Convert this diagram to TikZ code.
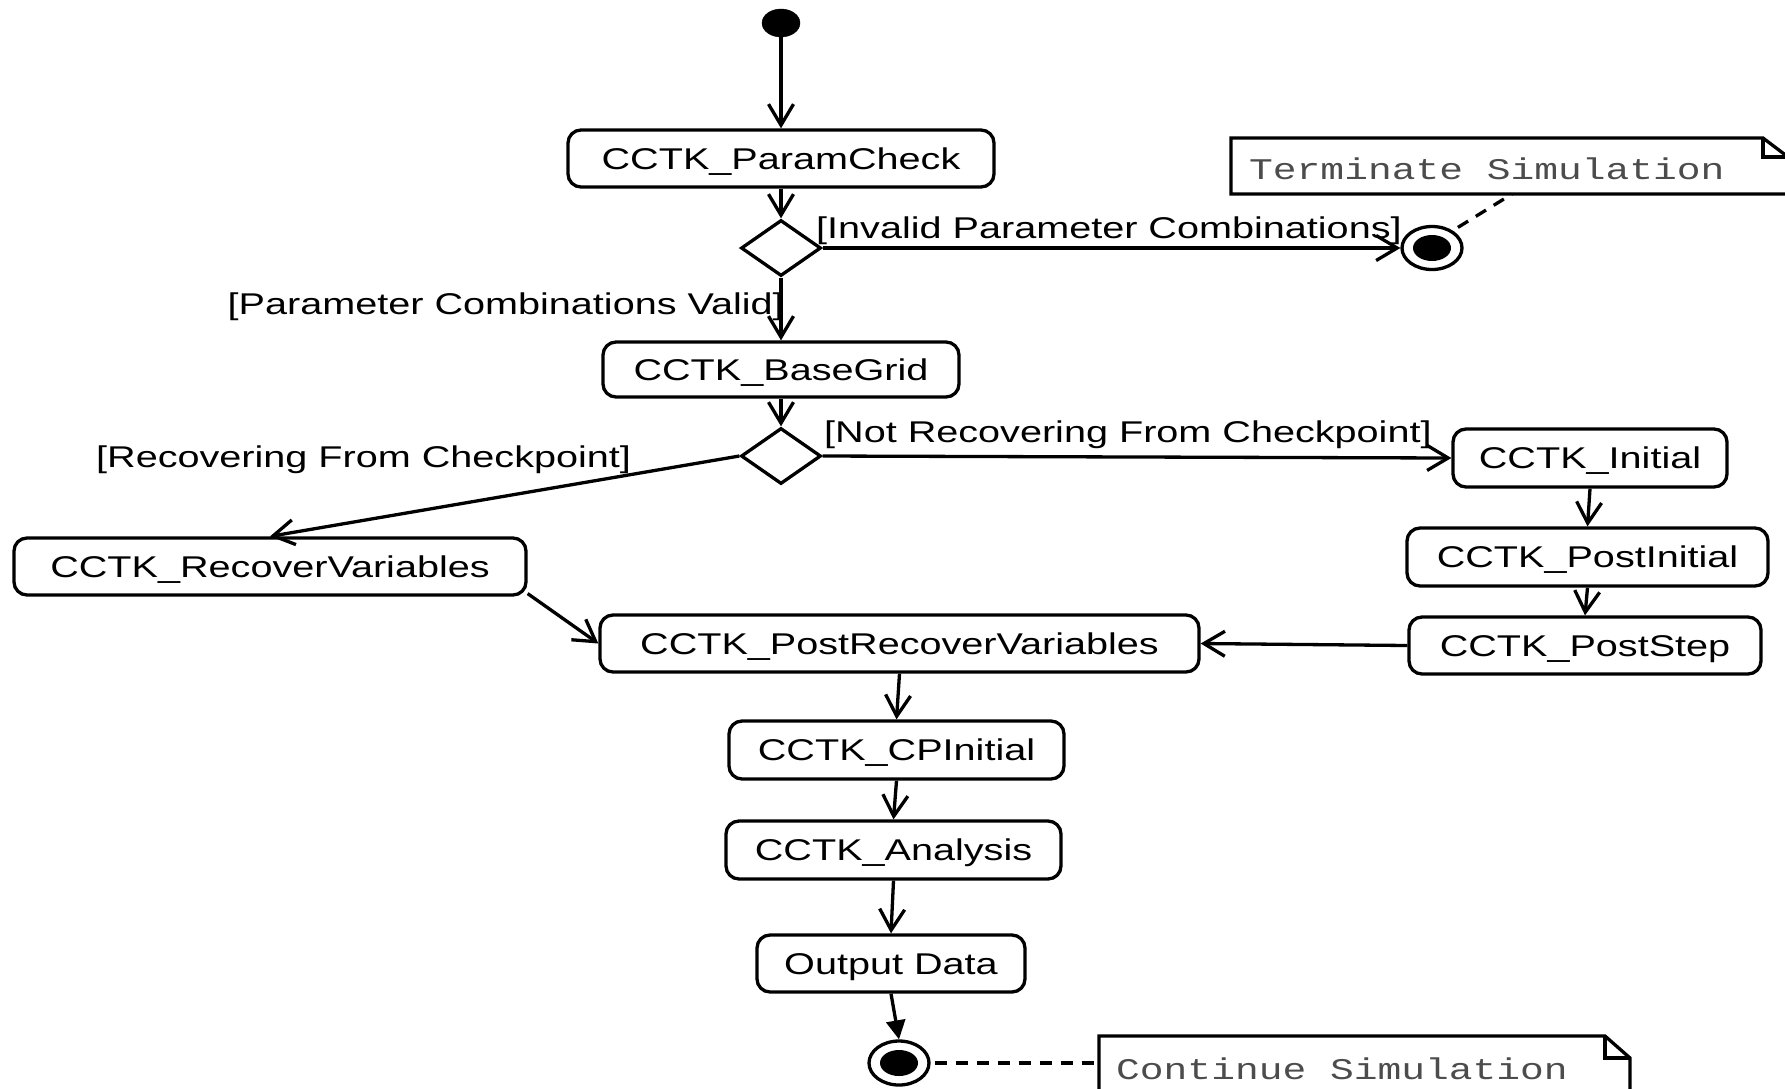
\documentclass[tikz,border=0pt]{standalone}
\usepackage{fontspec}
\setmainfont{Liberation Sans}[FakeStretch=1.32]
\newfontfamily\notefont{Liberation Mono}[FakeStretch=1.32]
\usetikzlibrary{arrows.meta,shapes.geometric}
\begin{document}
\begin{tikzpicture}[x=1pt,y=-1pt,
  every node/.style={font=\fontsize{30}{36}\selectfont},
  act/.style={draw, line width=3.3pt, rounded corners=13pt, inner sep=0pt, text height=24pt, text depth=2.5pt},
  dec/.style={draw, diamond, line width=3.3pt, inner sep=0pt, minimum width=80pt, minimum height=56pt},
  finalst/.style={draw, ellipse, line width=3.3pt, inner sep=0pt, minimum width=60pt, minimum height=43pt},
  flow/.style={line width=3.3pt, -{Straight Barb[length=21pt,width=25pt,line width=3.3pt]}},
  flowfill/.style={line width=3.3pt, -{Triangle[length=19pt,width=19pt]}},
  lbl/.style={inner sep=0pt},
  notetext/.style={font=\notefont\fontsize{30}{36}\selectfont, text=black!70, inner sep=0pt},
  noteline/.style={line width=3.3pt},
  anchorline/.style={line width=3.3pt, dash pattern=on 12pt off 9pt}]
\useasboundingbox (0,0) rectangle (1785,1088);
\fill[white] (0,0) rectangle (1785,1088);

% start
\node[draw, fill=black, ellipse, inner sep=0pt, minimum width=38pt, minimum height=28pt] (start) at (781,23) {};

% activities
\node[act, minimum width=426pt, minimum height=57pt] (pc) at (781,158.5) {CCTK\_ParamCheck};
\node[dec] (d1) at (781,248) {};
\node[finalst] (f1) at (1432,248) {};
\fill (f1.center) ellipse [x radius=19pt, y radius=13pt];
\node[act, minimum width=356pt, minimum height=55pt] (bg) at (781,369.5) {CCTK\_BaseGrid};
\node[dec] (d2) at (781,456) {};
\node[act, minimum width=274pt, minimum height=58pt] (init) at (1590,458) {CCTK\_Initial};
\node[act, minimum width=361pt, minimum height=58pt] (pi) at (1587.5,557) {CCTK\_PostInitial};
\node[act, minimum width=352pt, minimum height=57pt] (ps) at (1585,645.5) {CCTK\_PostStep};
\node[act, minimum width=512pt, minimum height=57pt] (rv) at (270,566.5) {CCTK\_RecoverVariables};
\node[act, minimum width=599pt, minimum height=57pt] (prv) at (899.5,643.5) {CCTK\_PostRecoverVariables};
\node[act, minimum width=335pt, minimum height=58pt] (cpi) at (896.5,750) {CCTK\_CPInitial};
\node[act, minimum width=335pt, minimum height=58pt] (an) at (893.5,850) {CCTK\_Analysis};
\node[act, minimum width=268pt, minimum height=57pt] (out) at (891,963.5) {Output Data};
\node[finalst, minimum height=44pt] (f2) at (899,1063) {};
\fill (f2.center) ellipse [x radius=19pt, y radius=13pt];

% guard labels
\node[lbl, anchor=west] (l1) at (816,230.5) {[Invalid Parameter Combinations]};
\node[lbl, anchor=east] (l2) at (784,306.5) {[Parameter Combinations Valid]};
\node[lbl, anchor=west] (l3) at (824,434.5) {[Not Recovering From Checkpoint]};
\node[lbl, anchor=west] (l4) at (96,459.5) {[Recovering From Checkpoint]};

% notes
\draw[noteline] (1231,138) -- (1763,138) -- (1792,160) -- (1792,194) -- (1231,194) -- cycle;
\draw[noteline] (1763,138) -- (1763,157) -- (1792,157);
\node[notetext, anchor=west] (n1) at (1249,169) {Terminate Simulation};
\coordinate (n1s) at (1512,194);

\draw[noteline] (1099,1100) -- (1099,1036) -- (1605,1036) -- (1630,1058) -- (1630,1100);
\draw[noteline] (1605,1036) -- (1605,1058) -- (1630,1058);
\node[notetext, anchor=west] (n2) at (1116,1069) {Continue Simulation};
\coordinate (n2w) at (1099,1063);

% flows
\draw[flow] (start) -- (pc.north);
\draw[flow] (pc.south) -- (d1.north);
\draw[flow] (d1.east) -- (f1.west);
\draw[flow] (d1.south) -- (bg.north);
\draw[flow] (bg.south) -- (d2.north);
\draw[flow] (d2.east) -- (init.west);
\draw[flow] (d2.west) -- (rv.north);
\draw[flow] (init.south) -- (pi.north);
\draw[flow] (pi.south) -- (ps.north);
\draw[flow] (ps.west) -- (prv.east);
\draw[flow] (rv.-6.5) -- (prv.west);
\draw[flow] (prv.south) -- (cpi.north);
\draw[flow] (cpi.south) -- (an.north);
\draw[flow] (an.south) -- (out.north);
\draw[flowfill] (out.south) -- (f2.north);

% note anchors
\draw[anchorline, shorten <=6pt] (f1.40) -- (n1s);
\draw[anchorline, shorten <=4pt] (f2.east) -- (n2w);
\end{tikzpicture}
\end{document}
